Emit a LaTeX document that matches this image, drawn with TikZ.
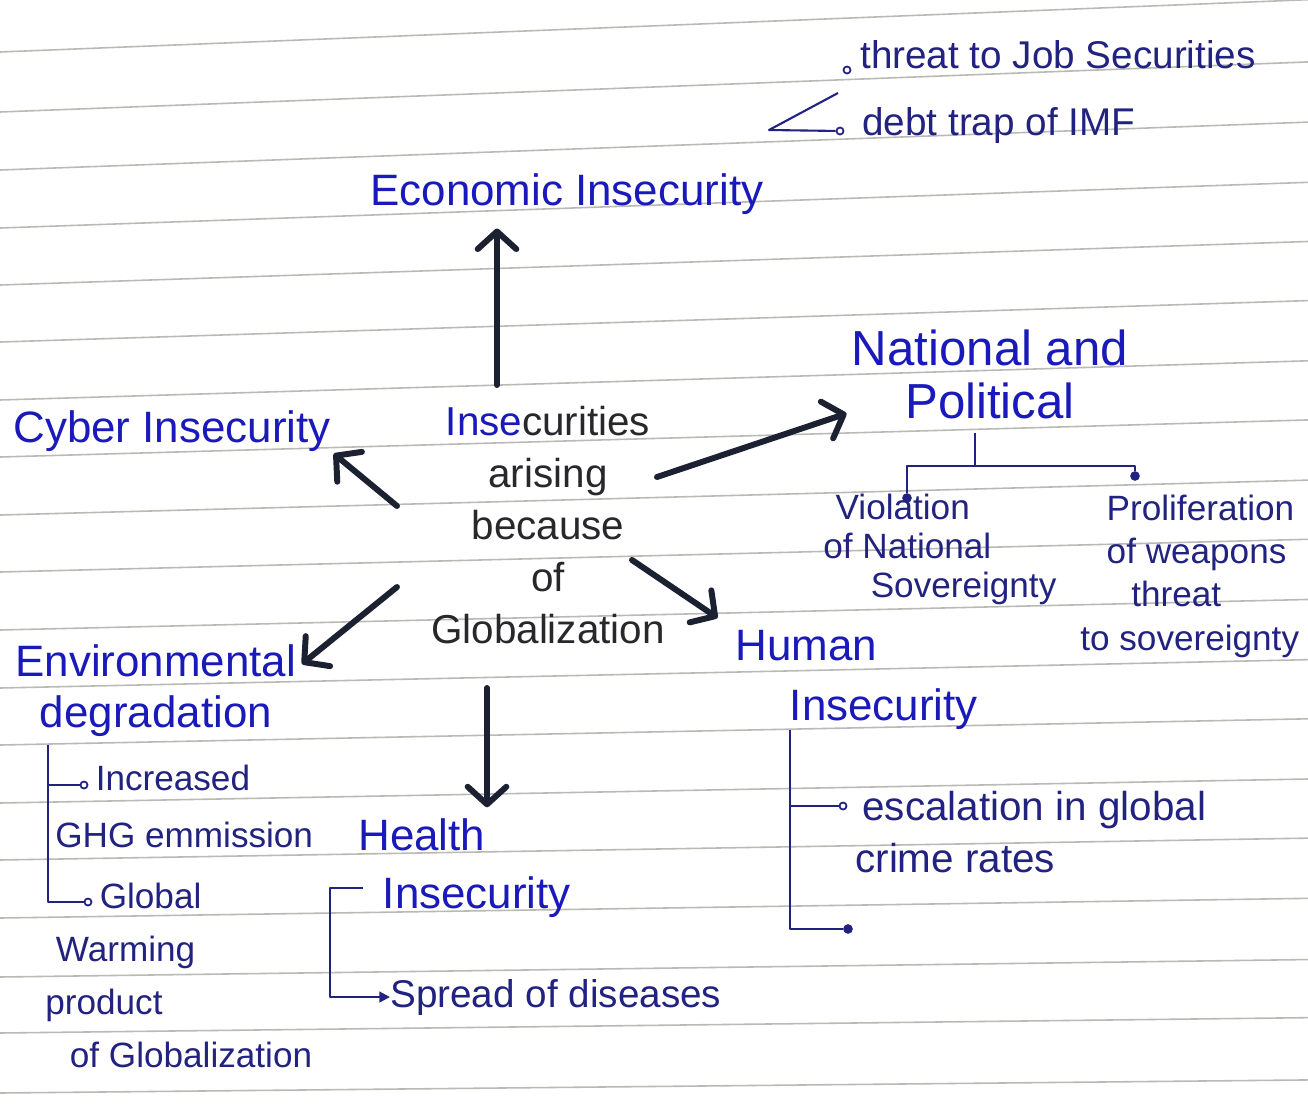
\documentclass[tikz,border=0pt]{standalone}
\usepackage{fontspec}
\setmainfont{Liberation Sans}
\usetikzlibrary{arrows.meta, positioning}

\definecolor{inkblue}{RGB}{26,26,186}
\definecolor{inknavy}{RGB}{34,34,128}
\definecolor{pencil}{RGB}{40,40,44}
\definecolor{marker}{RGB}{28,33,50}
\definecolor{ruling}{RGB}{185,185,182}

\tikzset{
	topic/.style={text=inkblue, inner sep=0pt, font=\fontsize{25}{29}\selectfont},
	leaf/.style={text=inknavy, inner sep=0pt, font=\fontsize{20}{30}\selectfont},
	twig/.style={draw=inknavy, line width=1.2pt, line join=round},
	spoke/.style={->, draw=marker, line width=3.4pt, line cap=round},
	hollowdot/.style={circle, draw=inknavy, line width=1pt, fill=white, inner sep=0pt, minimum size=4pt},
	inkdot/.style={circle, fill=inknavy, inner sep=0pt, minimum size=5.5pt},
}

\begin{document}
\begin{tikzpicture}[
	x=0.02cm, y=-0.02cm,
	>={Straight Barb[length=10pt, width=22pt, round]}, % open v-shaped heads
	]
	% ruled paper
	\fill[white] (0,0) rectangle (1308,1106);
	\useasboundingbox (0,0) rectangle (1308,1106);
	\foreach \y in {52,112,170,228,285,342,400,457,515,572,630,688,745,803,860,918,977,1033,1093}{
		\pgfmathsetmacro\yr{\y-1308*(0.04-0.03*(\y-52)/1041)}
		\draw[ruling, line width=0.9pt] (0,\y) -- (1308,\yr);
	}

	% centre (base = last line)
	\node[text=pencil, inner sep=0pt, align=center, anchor=base, font=\fontsize{23}{29.5}\selectfont] (hub) at (548,643)
		{{\color{inkblue}Inse}curities\\arising\\because\\of\\Globalization};

	% the six kinds
	\node[topic, anchor=base west] (econ) at (370,205) {Economic Insecurity};
	\node[topic, anchor=base, align=center, font=\fontsize{28}{30}\selectfont] (natpol) at (990,418) {National and\\Political};
	\node[topic, anchor=base west] (cyber) at (13,442) {Cyber Insecurity};
	\node[topic, anchor=base west, align=left] (env) at (15,727) {Environmental\\\hspace*{14pt}degradation};
	\node[topic, anchor=base west, align=left] (health) at (358,908) {Health\\[4pt]\hspace*{14pt}Insecurity};
	\node[topic, anchor=base west, align=left] (human) at (735,720) {Human\\[5pt]\hspace*{31pt}Insecurity};

	% spokes
	\coordinate (upfoot) at (497,385);
	\coordinate (natfoot) at (657,477);
	\coordinate (cyberfoot) at (397,506);
	\coordinate (envfoot) at (397,587);
	\coordinate (humanfoot) at (632,560);
	\coordinate (downfoot) at (487,688);
	\draw[spoke, shorten >=8pt] (upfoot) -- (upfoot |- econ.south);
	\draw[spoke, shorten >=3pt] (natfoot) -- ([yshift=4pt]natpol.south west);
	\draw[spoke, shorten >=2pt] (cyberfoot) -- (cyber.south east);
	\draw[spoke, shorten >=4pt] (envfoot) -- ([yshift=-14pt]env.north east);
	\draw[spoke, shorten >=12pt] (humanfoot) -- (human.north west);
	\draw[spoke, shorten >=6pt] (downfoot) -- (downfoot |- health.north);

	% economic
	\node[leaf, anchor=base west, font=\fontsize{22}{26}\selectfont] (job) at (860,68) {threat to Job Securities};
	\node[leaf, anchor=base west, font=\fontsize{22}{26}\selectfont] (imf) at (862,135) {debt trap of IMF};
	\node[hollowdot] (jobdot) at (847,70) {};
	\node[hollowdot] (imfdot) at (840,131) {};
	\coordinate (imfbend) at (769,130);
	\coordinate (imfend) at (838,93);
	\draw[twig] (imfdot) -- (imfbend) -- (imfend);

	% national and political
	\node[leaf, anchor=base west, align=left, font=\fontsize{20}{22}\selectfont] (viol) at (823,597)
		{\hspace*{7pt}Violation\\of National\\\hspace*{27pt}Sovereignty};
	\node[leaf, anchor=base west, align=left, font=\fontsize{20}{24.5}\selectfont] (prolif) at (1080,650)
		{\hspace*{15pt}Proliferation\\\hspace*{15pt}of weapons\\\hspace*{29pt}threat\\to sovereignty};
	\coordinate (natroot) at (975,433);
	\coordinate (natjoin) at (975,466);
	\node[inkdot] (violdot) at (907,498) {};
	\node[inkdot] (prolifdot) at (1135,476) {};
	\draw[twig] (natroot) -- (natjoin);
	\draw[twig] (violdot) -- (violdot |- natjoin) -- (prolifdot |- natjoin) -- (prolifdot);

	% environmental
	\node[leaf, anchor=base west, align=left, font=\fontsize{20}{32}\selectfont] (ghg) at (55,847)
		{\hspace*{23pt}Increased\\GHG emmission};
	\node[leaf, anchor=base west, align=left] (warming) at (45,1067)
		{\hspace*{31pt}Global\\\hspace*{6pt}Warming\\product\\\hspace*{14pt}of Globalization};
	\coordinate (envroot) at (48,745);
	\node[hollowdot] (ghgdot) at (84,785) {};
	\node[hollowdot] (warmdot) at (88,902) {};
	\draw[twig, line width=1pt] (envroot) |- (ghgdot);
	\draw[twig, line width=1pt] (envroot) |- (warmdot);

	% health
	\node[leaf, anchor=base west, font=\fontsize{22}{26}\selectfont] (spread) at (390,1007) {Spread of diseases};
	\coordinate (healthroot) at (363,888);
	\coordinate (healthbend) at (330,888);
	\draw[twig, -{Triangle[length=6pt, width=6pt]}] (healthroot) -- (healthbend) |- (spread.west);

	% human
	\node[leaf, anchor=base west, align=left, font=\fontsize{23}{29.5}\selectfont] (crime) at (855,872)
		{\hspace*{4pt}escalation in global\\crime rates};
	\coordinate (humanroot) at (790,730);
	\node[hollowdot] (crimedot) at (843,806) {};
	\node[inkdot] (humandot) at (848,929) {};
	\draw[twig] (humanroot) |- (crimedot);
	\draw[twig] (humanroot) |- (humandot);
\end{tikzpicture}
\end{document}
